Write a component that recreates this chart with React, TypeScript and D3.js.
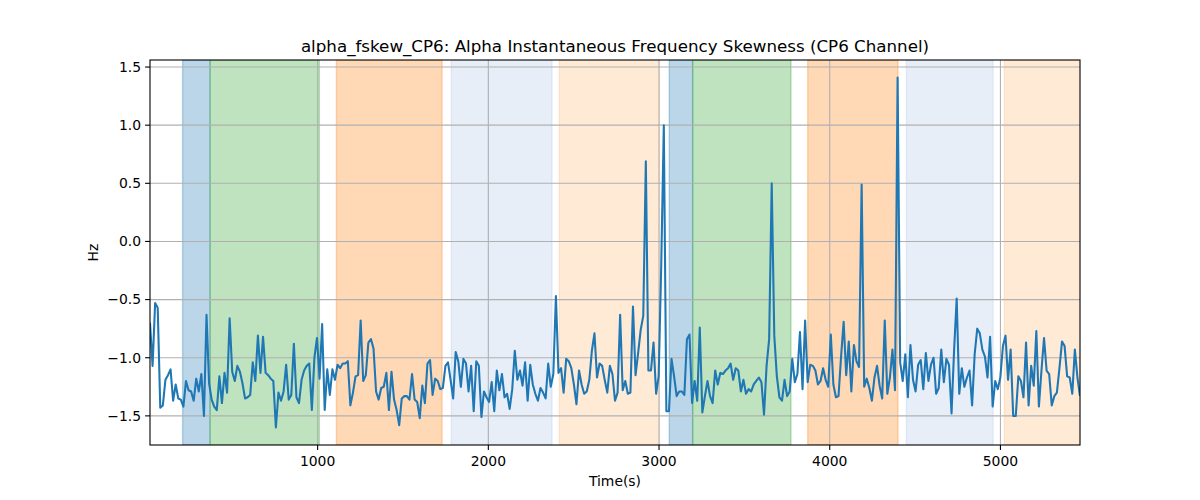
import * as d3 from "d3";

// skewness samples in three chunks (left → right)
const valuesA = [
  -0.70, -1.07, -0.53, -0.57, -1.43, -1.41, -1.19, -1.15, -1.10, -1.37,
  -1.23, -1.35, -1.36, -1.42, -1.20, -1.28, -1.29, -1.37, -1.18, -1.29,
  -1.14, -1.50, -0.63, -1.22, -1.36, -1.42, -1.45, -1.16, -1.39, -1.13,
  -1.30, -0.66, -1.12, -1.20, -1.07, -1.12, -1.22, -1.35, -1.34, -1.32,
  -1.04, -1.20, -0.81, -1.13, -0.82, -1.13, -1.15, -1.18, -1.20,
  -1.60, -1.30, -1.37, -1.29, -1.06, -1.36, -1.32, -0.88, -1.34, -1.39,
  -1.19, -1.11, -1.07, -1.05, -1.45, -1.00, -0.83, -1.18, -0.71, -1.45,
  -1.10, -1.32, -1.10, -1.19, -1.06, -1.09, -1.05, -1.05, -1.03, -1.41,
  -1.30, -1.16, -1.15, -0.68, -1.20, -1.15, -0.87, -0.84, -0.92, -1.29,
  -1.36, -1.26, -1.25, -1.13, -1.45, -1.12, -1.36, -1.45, -1.58, -1.35,
  -1.33, -1.33, -1.36, -1.14, -1.36, -1.38, -1.52, -1.24, -1.39, -1.05,
  -1.02, -1.32, -1.18, -1.20, -1.27, -1.26, -1.07, -1.04, -1.19, -1.35,
  -0.95, -1.03, -1.25, -1.01, -1.05, -1.29,
];

const valuesB = [
  -1.07, -1.46, -1.03, -1.07, -1.51, -1.29, -1.34, -1.38, -1.21, -1.46,
  -1.11, -1.28, -1.14, -1.34, -1.31, -1.44, -1.27, -0.94, -1.19, -1.11,
  -1.24, -1.04, -1.37, -1.06, -1.23, -1.31, -1.37, -1.26, -1.30, -1.35,
  -1.05, -1.25, -1.14, -0.47, -1.13, -1.09, -1.30, -1.01, -1.03, -1.09,
  -1.23, -1.40, -1.11, -1.23, -1.31, -1.29, -1.19, -0.94, -0.79, -1.17,
  -1.05, -1.07, -1.19, -1.30, -1.07, -1.14, -1.37, -1.30, -0.63, -1.28,
  -1.20, -1.31, -1.30, -0.56, -1.15, -0.96, -0.76, -0.64, 0.69, -1.11,
  -1.11, -0.87, -1.31, -1.16, -0.2, 1.00, -1.46, -1.46, -1.01, -1.16,
  -1.33, -1.29, -1.29, -1.32, -0.84, -0.80, -1.39, -1.20, -1.37, -0.74,
  -1.47, -1.33, -1.20, -1.33, -1.39, -1.11, -1.23, -1.13, -1.14, -1.11,
  -1.09, -1.05, -1.19, -1.09, -1.11, -1.29, -1.19, -1.31, -1.27, -1.29,
  -1.23, -1.20, -1.17, -1.21, -1.49, -1.07,
];

const valuesC = [
  -0.84, 0.50, -0.81, -1.16, -1.34, -1.37, -1.19, -1.33, -1.29, -1.01,
  -1.21, -1.14, -0.78, -1.27, -0.68, -1.21, -1.06, -1.07, -1.11, -1.23,
  -1.20, -1.09, -1.19, -1.25, -0.80, -1.23, -1.34, -1.33, -0.99, -0.69,
  -1.15, -0.86, -1.29, -0.89, -1.03, -1.08, 0.49, -1.25, -1.18, -1.26,
  -1.37, -1.17, -1.07, -1.24, -1.35, -0.68, -1.31, -1.17, -0.93, -1.28,
  1.41, -1.04, -1.20, -0.97, -1.34, -0.89, -1.19, -1.29, -1.06, -1.02,
  -1.27, -0.96, -1.20, -1.06, -1.00, -1.31, -1.26, -0.93, -1.21, -1.01,
  -1.06, -1.48, -0.93, -0.49, -1.31, -1.09, -1.25, -1.17, -1.11, -1.41,
  -0.97, -0.75, -0.79, -0.93, -0.99, -1.17, -0.82, -1.42, -1.20, -1.27,
  -1.17, -0.90, -0.81, -1.19, -0.93, -1.50, -1.50, -1.16, -1.20, -1.34,
  -0.87, -1.41, -1.07, -1.24, -0.77, -1.42, -1.11, -0.83, -1.11, -1.14,
  -1.41, -1.33, -1.30, -1.09, -0.86, -0.90, -1.16, -1.17, -1.31, -0.93,
  -1.17, -1.33,
];

// sample clock
const T0 = 18;
const DT = 15.05;

// shaded segments
const spanStarts = [209, 370, 1110, 1783, 2416, 3060, 3197, 3871, 4449, 5023];
const spanEnds = [370, 1010, 1729, 2373, 3002, 3197, 3773, 4400, 4957, 5480];
const spanColors = [
  "#1f77b4", "#2ca02c", "#ff7f0e", "#aec7e8", "#ffbb78",
  "#1f77b4", "#2ca02c", "#ff7f0e", "#aec7e8", "#ffbb78",
];

const xTicks = [1000, 2000, 3000, 4000, 5000];
const yTicks = [-1.5, -1.0, -0.5, 0.0, 0.5, 1.0, 1.5];

const W = 1200;
const H = 500;
const margin = { top: 60, right: 120, bottom: 55, left: 150 };
const font = "DejaVu Sans, sans-serif";

export default function App() {
  const values = [...valuesA, ...valuesB, ...valuesC];
  const data = values.map((v, i) => ({ t: T0 + i * DT, v }));

  const x = d3
    .scaleLinear()
    .domain(d3.extent(data, (d) => d.t) as [number, number])
    .range([margin.left, W - margin.right]);
  const yMin = d3.min(values) as number;
  const yMax = d3.max(values) as number;
  const pad = (yMax - yMin) * 0.05;
  const y = d3
    .scaleLinear()
    .domain([yMin - pad, yMax + pad])
    .range([H - margin.bottom, margin.top]);

  const line = d3
    .line<{ t: number; v: number }>()
    .x((d) => x(d.t))
    .y((d) => y(d.v));

  const [x0, x1] = x.range();
  const [y0, y1] = y.range();
  const fmt = (v: number) => d3.format(".1f")(v).replace("-", "\u2212");

  return (
    <svg
      width={W}
      height={H}
      style={{ position: "absolute", left: 0, top: 0, background: "#fff" }}
      fontFamily={font}
    >
      <defs>
        <clipPath id="plot">
          <rect x={x0} y={y1} width={x1 - x0} height={y0 - y1} />
        </clipPath>
      </defs>
      <g clipPath="url(#plot)">
        {spanStarts.map((s, i) => (
          <rect
            key={i}
            x={x(s)}
            y={y1}
            width={x(spanEnds[i]) - x(s)}
            height={y0 - y1}
            fill={spanColors[i]}
            fillOpacity={0.3}
            stroke={spanColors[i]}
            strokeOpacity={0.3}
            strokeWidth={1.4}
          />
        ))}
        {xTicks.map((t) => (
          <line key={"gx" + t} x1={x(t)} x2={x(t)} y1={y1} y2={y0} stroke="#b0b0b0" strokeWidth={1.1} />
        ))}
        {yTicks.map((t) => (
          <line key={"gy" + t} x1={x0} x2={x1} y1={y(t)} y2={y(t)} stroke="#b0b0b0" strokeWidth={1.1} />
        ))}
        <path d={line(data) || ""} fill="none" stroke="#1f77b4" strokeWidth={2.08} strokeLinejoin="round" />
      </g>
      <rect x={x0} y={y1} width={x1 - x0} height={y0 - y1} fill="none" stroke="#000" strokeWidth={1.1} />
      {xTicks.map((t) => (
        <g key={"tx" + t}>
          <line x1={x(t)} x2={x(t)} y1={y0} y2={y0 + 4.9} stroke="#000" strokeWidth={1.1} />
          <text x={x(t)} y={y0 + 21} textAnchor="middle" fontSize={13.9} fill="#000">
            {t}
          </text>
        </g>
      ))}
      {yTicks.map((t) => (
        <g key={"ty" + t}>
          <line x1={x0 - 4.9} x2={x0} y1={y(t)} y2={y(t)} stroke="#000" strokeWidth={1.1} />
          <text x={x0 - 9} y={y(t)} dy="0.35em" textAnchor="end" fontSize={13.9} fill="#000">
            {fmt(t)}
          </text>
        </g>
      ))}
      <text x={(x0 + x1) / 2} y={486} textAnchor="middle" fontSize={13.9} fill="#000">
        Time(s)
      </text>
      <text transform={`translate(98,${(y0 + y1) / 2}) rotate(-90)`} textAnchor="middle" fontSize={13.9} fill="#000">
        Hz
      </text>
      <text x={(x0 + x1) / 2} y={52} textAnchor="middle" fontSize={16.7} fill="#000">
        alpha_fskew_CP6: Alpha Instantaneous Frequency Skewness (CP6 Channel)
      </text>
    </svg>
  );
}
